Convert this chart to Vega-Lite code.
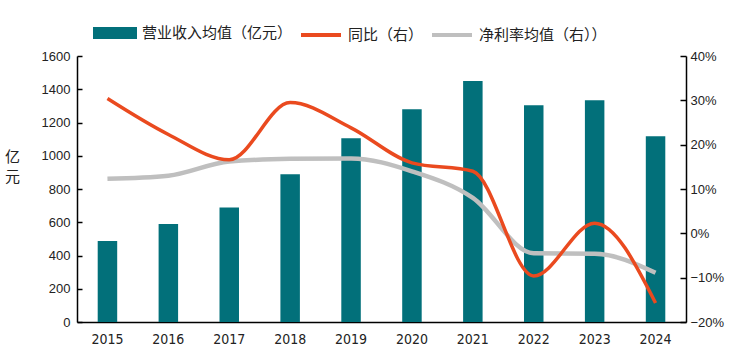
{
  "$schema": "https://vega.github.io/schema/vega-lite/v6.json",
  "autosize": {"type": "none"},
  "width": 609,
  "height": 266,
  "padding": {"left": 77, "top": 56, "right": 53, "bottom": 39},
  "background": "white",
  "config": {
    "view": {"stroke": null},
    "font": "Noto Sans CJK SC",
    "axis": {"grid": false, "domainColor": "#000000", "domainWidth": 1.5, "tickColor": "#000000", "tickWidth": 1.5, "labelColor": "#222222", "labelFont": "Liberation Sans", "labelFontSize": 13}
  },
  "data": {
    "values": [
      {"year": "2015", "revenue": 487, "yoy": 0.304, "margin": 0.123},
      {"year": "2016", "revenue": 590, "yoy": 0.223, "margin": 0.130},
      {"year": "2017", "revenue": 688, "yoy": 0.166, "margin": 0.162},
      {"year": "2018", "revenue": 888, "yoy": 0.295, "margin": 0.168},
      {"year": "2019", "revenue": 1105, "yoy": 0.238, "margin": 0.169},
      {"year": "2020", "revenue": 1280, "yoy": 0.159, "margin": 0.140},
      {"year": "2021", "revenue": 1449, "yoy": 0.140, "margin": 0.080},
      {"year": "2022", "revenue": 1304, "yoy": -0.096, "margin": -0.045},
      {"year": "2023", "revenue": 1334, "yoy": 0.023, "margin": -0.046},
      {"year": "2024", "revenue": 1117, "yoy": -0.157, "margin": -0.089}
    ]
  },
  "encoding": {
    "x": {
      "field": "year", "type": "ordinal",
      "scale": {"paddingInner": 0.68, "paddingOuter": 0.34},
      "axis": {"title": null, "labelAngle": 0, "ticks": false, "labelPadding": 10, "labelFont": "Liberation Sans Narrow, DejaVu Sans Condensed, sans-serif", "labelFontSize": 14}
    }
  },
  "layer": [
    {
      "mark": {"type": "bar", "color": "#02707A"},
      "encoding": {
        "y": {
          "field": "revenue", "type": "quantitative",
          "scale": {"domain": [0, 1600], "nice": false},
          "axis": {"orient": "left", "format": "d", "values": [0, 200, 400, 600, 800, 1000, 1200, 1400, 1600], "tickSize": -5, "labelPadding": 12,
            "title": ["亿", "元"], "titleAngle": 0, "titleFont": "Noto Sans CJK SC", "titleFontSize": 15, "titleFontWeight": "normal", "titleColor": "#222222",
            "titleX": -65, "titleY": 93, "titleAlign": "center", "titleBaseline": "top", "titleLineHeight": 20}
        },
        "color": {
          "datum": "营业收入均值（亿元）",
          "scale": {"domain": ["营业收入均值（亿元）", "同比（右）", "净利率均值（右））"], "range": ["#02707A", "#EA4A1F", "#BFBFBF"]},
          "legend": {
            "title": null, "orient": "none", "direction": "horizontal", "legendX": 16, "legendY": -45,
            "symbolSize": 1600, "labelFont": "Noto Sans CJK SC", "labelFontSize": 15, "labelColor": "#222222", "labelOffset": 5, "columnPadding": 0,
            "symbolType": "M-1,-0.2H1V0.2H-1Z",
            "encode": {
              "symbols": {
                "update": {
                  "shape": {"signal": "datum.value === '营业收入均值（亿元）' ? 'M-1,-0.2H1V0.2H-1Z' : 'M-1,0H1'"},
                  "fill": {"signal": "datum.value === '营业收入均值（亿元）' ? '#02707A' : 'transparent'"},
                  "stroke": {"signal": "datum.value === '营业收入均值（亿元）' ? 'transparent' : (datum.value === '同比（右）' ? '#EA4A1F' : '#BFBFBF')"},
                  "strokeWidth": {"value": 4},
                  "opacity": {"value": 1}
                }
              }
            }
          }
        }
      }
    },
    {
      "layer": [
        {
          "mark": {"type": "line", "interpolate": "monotone", "strokeWidth": 4.5, "color": "#BFBFBF"},
          "encoding": {
            "y": {"field": "margin", "type": "quantitative"},
            "color": {"datum": "净利率均值（右））"}
          }
        },
        {
          "mark": {"type": "line", "interpolate": "monotone", "strokeWidth": 3.5, "color": "#EA4A1F"},
          "encoding": {
            "y": {"field": "yoy", "type": "quantitative"},
            "color": {"datum": "同比（右）"}
          }
        }
      ],
      "encoding": {
        "y": {
          "type": "quantitative",
          "scale": {"domain": [-0.2, 0.4], "nice": false},
          "axis": {"orient": "right", "title": null, "format": ".0%", "values": [-0.2, -0.1, 0, 0.1, 0.2, 0.3, 0.4], "tickSize": -6, "labelPadding": 10}
        }
      }
    }
  ],
  "resolve": {"scale": {"y": "independent"}}
}
